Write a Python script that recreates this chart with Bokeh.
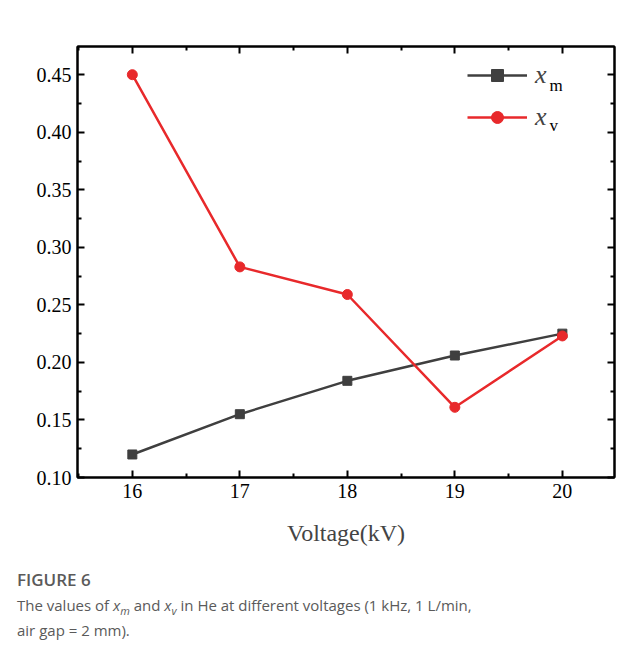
from bokeh.plotting import figure
from bokeh.models import (Range1d, LinearAxis, FixedTicker, Legend, LegendItem,
                          Label, Div, NumeralTickFormatter, CustomJSTickFormatter)
from bokeh.layouts import column
from bokeh.embed import file_html
from bokeh.resources import INLINE

voltage = [16, 17, 18, 19, 20]
xm = [0.120, 0.155, 0.184, 0.206, 0.225]
xv = [0.450, 0.283, 0.259, 0.161, 0.223]
x_ticks = [16, 17, 18, 19, 20]
y_ticks = [0.10, 0.15, 0.20, 0.25, 0.30, 0.35, 0.40, 0.45]

SERIF = "Liberation Serif"

p = figure(width=631, height=548, output_backend="svg", toolbar_location=None,
           x_range=Range1d(15.49, 20.485), y_range=Range1d(0.10, 0.4745),
           min_border_left=77, min_border_top=46, min_border_right=17,
           min_border_bottom=69)
p.grid.visible = False
p.outline_line_color = "black"
p.outline_line_width = 2
p.background_fill_color = "white"
p.border_fill_color = "white"

def style_axis(ax, ticks, minor, show_labels):
    ax.ticker = FixedTicker(ticks=ticks, minor_ticks=minor)
    ax.axis_line_width = 2
    ax.axis_line_color = "black"
    ax.major_tick_in = 7
    ax.major_tick_out = 0
    ax.minor_tick_in = 4
    ax.minor_tick_out = 0
    ax.major_tick_line_width = 2
    ax.minor_tick_line_width = 2
    ax.major_label_text_font = SERIF
    ax.major_label_text_font_size = "20px"
    ax.major_label_text_color = "black"
    ax.major_label_standoff = 6
    if not show_labels:
        ax.formatter = CustomJSTickFormatter(code="return ''")
        ax.major_label_standoff = 0

x_minor = [15.5, 16.5, 17.5, 18.5, 19.5, 20.5]
y_minor = [0.125, 0.175, 0.225, 0.275, 0.325, 0.375, 0.425, 0.475]

style_axis(p.xaxis[0], x_ticks, x_minor, True)
style_axis(p.yaxis[0], y_ticks, y_minor, True)
p.yaxis[0].formatter = NumeralTickFormatter(format="0.00")
p.xaxis[0].axis_label = "Voltage(kV)"
p.xaxis[0].axis_label_text_font = SERIF
p.xaxis[0].axis_label_text_font_size = "24px"
p.xaxis[0].axis_label_text_font_style = "normal"
p.xaxis[0].axis_label_standoff = 19

top_ax = LinearAxis()
style_axis(top_ax, x_ticks, x_minor, False)
p.add_layout(top_ax, "above")
right_ax = LinearAxis()
style_axis(right_ax, y_ticks, y_minor, False)
p.add_layout(right_ax, "right")

c_m = "#3f3f3f"
c_v = "#e8292b"
l1 = p.line(voltage, xm, line_color=c_m, line_width=2.5)
s1 = p.scatter(voltage, xm, marker="square", size=9, fill_color=c_m, line_color=c_m)
l2 = p.line(voltage, xv, line_color=c_v, line_width=2.5)
s2 = p.scatter(voltage, xv, marker="circle", size=10, fill_color=c_v, line_color=c_v)

legend = Legend(items=[LegendItem(label="x", renderers=[l1, s1]),
                       LegendItem(label="x", renderers=[l2, s2])],
                location=(390, 345), glyph_width=60, glyph_height=30,
                label_height=30, label_width=40, spacing=12, padding=0, margin=0,
                label_standoff=8, border_line_color=None,
                background_fill_alpha=0,
                label_text_font=SERIF, label_text_font_style="italic",
                label_text_font_size="26px")
p.add_layout(legend)

for t, yy in [("m", 0.4405), ("v", 0.4058)]:
    p.add_layout(Label(x=19.88, y=yy, text=t, text_font=SERIF,
                       text_font_size="17px", text_color="black",
                       text_baseline="middle"))

caption = Div(text=(
    '<div style="font-family:\'Open Sans\';color:#5a5a5a;padding-left:12px;">'
    '<div style="font-size:17px;font-weight:600;margin-top:14px;line-height:26px;">FIGURE 6</div>'
    '<div style="font-size:15px;line-height:25px;">The values of <i>x</i>'
    '<sub style="font-size:11px;line-height:0;"><i>m</i></sub> and '
    '<i>x</i><sub style="font-size:11px;line-height:0;"><i>v</i></sub> in He at different '
    'voltages (1 kHz, 1 L/min,<br>air gap = 2 mm).</div></div>'), width=631, height=95)

layout = column(p, caption)
open("out.html", "w").write(file_html(layout, INLINE))
